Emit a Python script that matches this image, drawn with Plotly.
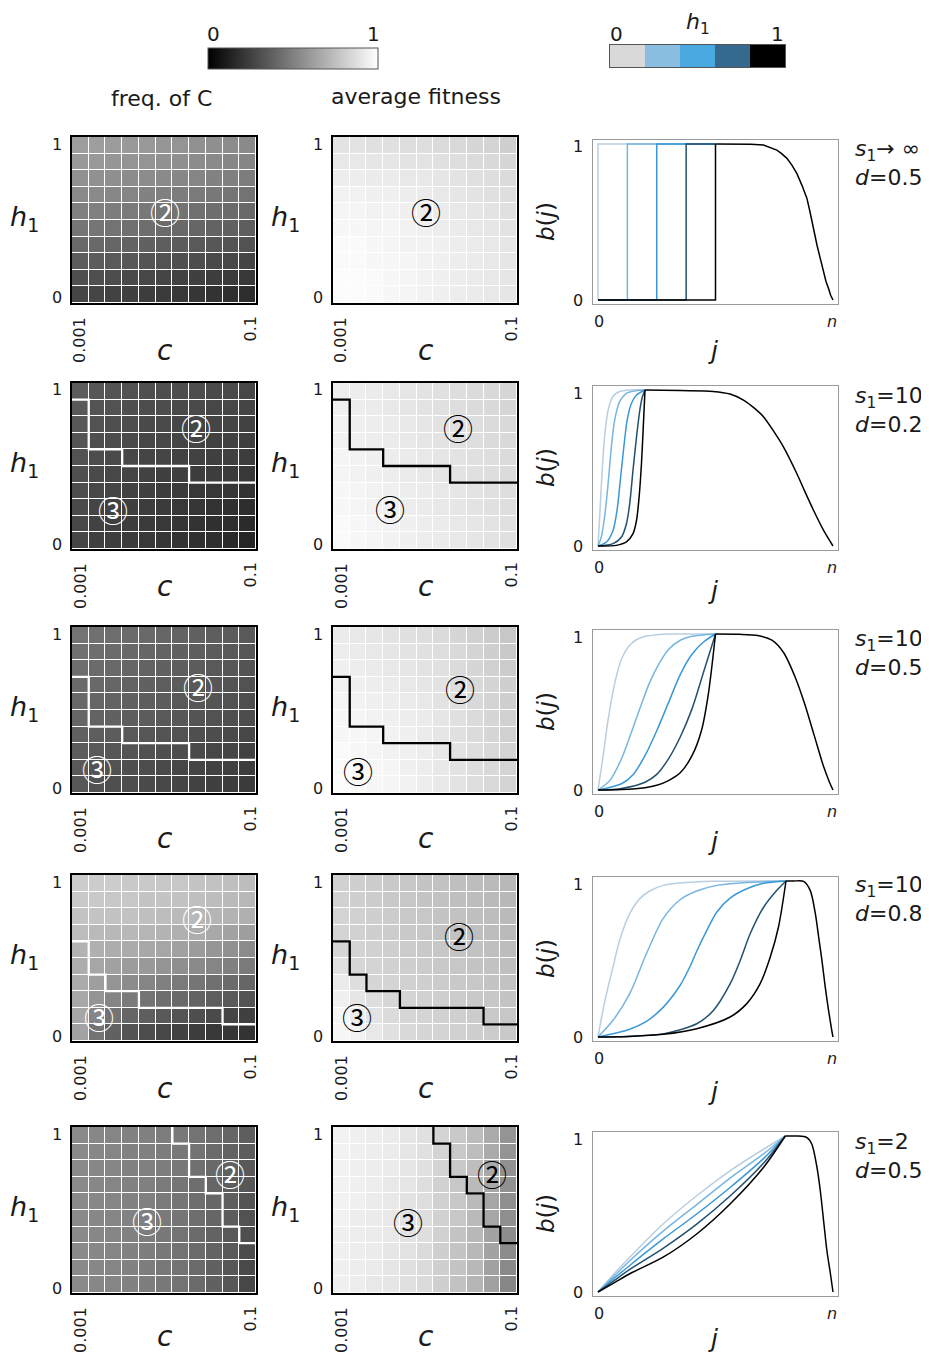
import plotly.graph_objects as go

# page has an 8px body margin: figure spans page pixels 8..929 x 8..1356
OFF = 8
W, H = 929 - OFF, 1356 - OFF
FONT = "DejaVu Sans, Verdana, sans-serif"
CIRC_FONT = "Noto Sans CJK JP, Noto Sans CJK SC, DejaVu Sans, sans-serif"

# ---------------- heatmap data (percent grey, rows listed top -> bottom) -------------
FREQ_1 = [
    [62, 62, 61, 60, 60, 59, 58, 57, 56, 55, 54],
    [60, 60, 59, 58, 58, 57, 56, 55, 54, 53, 52],
    [57, 57, 56, 55, 55, 54, 53, 52, 51, 50, 49],
    [54, 54, 53, 52, 51, 50, 49, 48, 47, 46, 45],
    [50, 50, 49, 48, 47, 46, 45, 44, 43, 42, 41],
    [46, 46, 45, 44, 43, 42, 41, 40, 39, 38, 37],
    [41, 41, 40, 39, 38, 37, 36, 35, 34, 33, 32],
    [36, 36, 35, 34, 33, 32, 31, 30, 29, 28, 27],
    [31, 31, 30, 29, 28, 27, 26, 25, 24, 23, 22],
    [27, 27, 26, 25, 24, 23, 22, 21, 20, 19, 18],
]
FIT_1 = [
    [89, 89, 88, 88, 87, 87, 86, 85, 84, 83, 81],
    [91, 91, 90, 90, 89, 89, 88, 87, 86, 85, 84],
    [93, 93, 92, 92, 91, 91, 90, 89, 88, 87, 86],
    [95, 95, 94, 94, 93, 92, 91, 90, 89, 88, 87],
    [96, 96, 95, 95, 94, 93, 92, 91, 90, 89, 88],
    [97, 97, 96, 96, 95, 94, 93, 92, 91, 90, 89],
    [98, 98, 97, 96, 95, 95, 94, 93, 92, 91, 90],
    [98, 98, 97, 97, 96, 95, 94, 93, 92, 91, 90],
    [99, 99, 98, 97, 96, 95, 94, 93, 92, 91, 90],
    [99, 99, 98, 97, 96, 95, 94, 93, 92, 91, 90],
]
FREQ_2 = [
    [36, 34, 33, 32, 31, 31, 30, 30, 29, 29, 28],
    [35, 33, 32, 31, 30, 30, 29, 29, 28, 28, 27],
    [34, 32, 31, 30, 29, 29, 28, 28, 27, 27, 26],
    [33, 31, 30, 29, 28, 28, 27, 27, 26, 26, 25],
    [32, 30, 29, 28, 27, 27, 26, 26, 25, 25, 24],
    [31, 29, 28, 27, 26, 25, 25, 24, 24, 23, 22],
    [30, 28, 27, 26, 25, 24, 23, 22, 22, 21, 20],
    [29, 27, 26, 25, 24, 23, 22, 21, 20, 19, 18],
    [28, 26, 25, 24, 23, 22, 21, 20, 19, 18, 17],
    [27, 25, 24, 23, 22, 21, 20, 19, 18, 16, 15],
]
FIT_2 = [
    [93, 93, 92, 91, 90, 89, 88, 87, 86, 85, 84],
    [94, 93, 92, 91, 90, 89, 88, 87, 86, 85, 84],
    [95, 94, 93, 92, 91, 90, 89, 88, 87, 86, 85],
    [95, 94, 93, 92, 91, 90, 89, 88, 87, 86, 85],
    [96, 95, 94, 93, 92, 91, 90, 89, 88, 87, 86],
    [96, 95, 94, 93, 92, 91, 90, 89, 88, 87, 86],
    [97, 96, 95, 94, 93, 92, 91, 90, 89, 88, 87],
    [97, 96, 95, 94, 93, 92, 91, 90, 89, 88, 87],
    [98, 97, 96, 95, 94, 93, 92, 91, 90, 89, 88],
    [98, 97, 96, 95, 94, 93, 92, 91, 90, 89, 88],
]
FREQ_3 = [
    [45, 44, 43, 42, 41, 40, 39, 38, 37, 36, 35],
    [44, 43, 42, 41, 40, 39, 38, 37, 36, 35, 34],
    [43, 42, 41, 40, 39, 38, 37, 36, 35, 34, 33],
    [42, 41, 40, 39, 38, 37, 36, 35, 34, 33, 32],
    [41, 40, 39, 38, 37, 36, 35, 34, 33, 32, 31],
    [40, 39, 38, 37, 36, 35, 34, 33, 32, 31, 30],
    [38, 37, 36, 35, 34, 33, 32, 31, 30, 29, 28],
    [36, 35, 34, 33, 32, 31, 30, 29, 28, 27, 26],
    [35, 33, 32, 31, 30, 29, 28, 27, 26, 25, 24],
    [34, 32, 31, 30, 29, 28, 27, 26, 25, 24, 23],
]
FIT_3 = [
    [92, 91, 90, 89, 88, 87, 86, 84, 82, 80, 78],
    [93, 92, 91, 90, 89, 88, 87, 85, 83, 81, 79],
    [94, 93, 92, 91, 90, 89, 88, 86, 84, 82, 80],
    [95, 94, 93, 92, 91, 90, 89, 87, 85, 83, 81],
    [96, 95, 94, 93, 92, 91, 89, 87, 85, 83, 81],
    [97, 96, 95, 94, 93, 92, 90, 88, 86, 84, 82],
    [97, 97, 96, 95, 94, 92, 90, 88, 86, 84, 82],
    [98, 97, 96, 95, 94, 93, 91, 89, 87, 85, 83],
    [98, 98, 97, 96, 94, 93, 91, 89, 87, 85, 83],
    [99, 98, 97, 96, 95, 93, 91, 89, 87, 85, 83],
]
FREQ_4 = [
    [80, 80, 80, 79, 79, 78, 78, 77, 76, 75, 74],
    [79, 79, 78, 78, 77, 77, 76, 75, 74, 73, 72],
    [77, 77, 76, 76, 75, 74, 73, 72, 71, 70, 69],
    [74, 73, 72, 72, 71, 70, 69, 68, 66, 64, 62],
    [70, 69, 68, 67, 66, 65, 63, 61, 59, 57, 55],
    [68, 65, 63, 61, 60, 58, 56, 54, 52, 50, 48],
    [67, 62, 58, 55, 52, 50, 48, 46, 44, 42, 40],
    [66, 58, 52, 48, 45, 43, 41, 39, 37, 35, 33],
    [65, 52, 45, 40, 37, 35, 33, 31, 29, 27, 25],
    [64, 45, 38, 33, 30, 28, 26, 24, 22, 21, 20],
]
FIT_4 = [
    [82, 81, 80, 79, 78, 77, 76, 75, 74, 73, 72],
    [82, 81, 80, 79, 78, 77, 76, 75, 74, 73, 72],
    [83, 82, 81, 80, 79, 78, 77, 76, 75, 74, 73],
    [83, 82, 81, 80, 79, 78, 77, 76, 75, 74, 73],
    [84, 83, 82, 81, 80, 79, 78, 77, 76, 75, 74],
    [88, 84, 83, 82, 81, 80, 79, 78, 77, 76, 75],
    [92, 87, 84, 83, 82, 81, 80, 79, 78, 77, 76],
    [94, 90, 87, 84, 83, 82, 81, 80, 79, 78, 77],
    [96, 93, 89, 86, 84, 83, 82, 81, 80, 79, 78],
    [97, 95, 91, 88, 85, 84, 83, 82, 81, 80, 79],
]
FREQ_5 = [
    [54, 53, 52, 51, 50, 49, 47, 45, 43, 40, 37],
    [54, 53, 52, 51, 50, 49, 47, 45, 42, 39, 36],
    [54, 53, 52, 51, 50, 49, 47, 44, 41, 38, 35],
    [54, 53, 52, 51, 50, 48, 46, 43, 40, 37, 34],
    [54, 53, 52, 51, 50, 48, 46, 43, 40, 37, 33],
    [54, 53, 52, 51, 50, 48, 46, 43, 40, 36, 32],
    [54, 53, 52, 51, 49, 47, 45, 42, 39, 35, 31],
    [54, 53, 52, 51, 49, 47, 45, 42, 39, 35, 30],
    [54, 53, 52, 51, 49, 47, 45, 42, 38, 34, 29],
    [54, 53, 52, 51, 49, 47, 45, 42, 38, 34, 28],
]
FIT_5 = [
    [95, 94, 93, 92, 90, 88, 83, 79, 74, 67, 58],
    [95, 94, 93, 92, 90, 88, 83, 79, 74, 67, 58],
    [95, 94, 93, 92, 90, 88, 83, 79, 74, 66, 57],
    [95, 94, 93, 91, 90, 87, 82, 78, 73, 66, 57],
    [95, 94, 92, 91, 89, 87, 82, 78, 73, 65, 56],
    [95, 93, 92, 91, 89, 87, 82, 78, 73, 65, 56],
    [94, 93, 92, 91, 89, 87, 82, 77, 72, 64, 55],
    [94, 93, 92, 90, 89, 86, 81, 77, 72, 64, 55],
    [94, 93, 92, 90, 88, 86, 81, 77, 72, 63, 54],
    [94, 93, 91, 90, 88, 86, 81, 76, 71, 63, 53],
]

# region boundaries (cell-index coordinates)
BOUND_X = [[], [-0.5, 0.5, 0.5, 2.5, 2.5, 6.5, 6.5, 10.5],
           [-0.5, 0.5, 0.5, 2.5, 2.5, 6.5, 6.5, 10.5],
           [-0.5, 0.5, 0.5, 1.5, 1.5, 3.5, 3.5, 8.5, 8.5, 10.5],
           [5.5, 5.5, 6.5, 6.5, 7.5, 7.5, 8.5, 8.5, 9.5, 9.5, 10.5]]
BOUND_Y = [[], [8.5, 8.5, 5.5, 5.5, 4.5, 4.5, 3.5, 3.5],
           [6.5, 6.5, 3.5, 3.5, 2.5, 2.5, 1.5, 1.5],
           [5.5, 5.5, 3.5, 3.5, 2.5, 2.5, 1.5, 1.5, 0.5, 0.5],
           [9.5, 8.5, 8.5, 6.5, 6.5, 5.5, 5.5, 3.5, 3.5, 2.5, 2.5]]

# circled region labels: (label, x, y) per row for freq / fitness panels
LABELS_FREQ = [[("②", 5.07, 5.04)],
               [("②", 6.94, 6.83), ("③", 1.96, 1.9)],
               [("②", 7.04, 5.95), ("③", 1.0, 1.0)],
               [("②", 7.0, 6.9), ("③", 1.13, 1.0)],
               [("②", 8.97, 6.74), ("③", 4.0, 3.9)]]
LABELS_FIT = [[("②", 5.07, 5.05)],
              [("②", 6.99, 6.87), ("③", 2.91, 1.96)],
              [("②", 7.07, 5.85), ("③", 0.97, 0.9)],
              [("②", 7.04, 5.9), ("③", 0.94, 1.0)],
              [("②", 9.0, 6.74), ("③", 3.96, 3.84)]]

# ---------------- b(j) curves (j as fraction of n), lightest -> black -------------
R1_X = [[0, 0, 0.5], [0, 0.125, 0.125, 0.5], [0, 0.25, 0.25, 0.5], [0, 0.375, 0.375, 0.5],
        [0, 0.5, 0.5]]
R1_Y = [[0, 1, 1], [0, 0, 1, 1], [0, 0, 1, 1], [0, 0, 1, 1], [0, 0, 1]]
R1_DX = [0.5, 0.6, 0.65, 0.704, 0.72, 0.761, 0.78, 0.804, 0.825, 0.846, 0.868, 0.889,
         0.9, 0.910, 0.92, 0.932, 0.946, 0.960, 0.97, 0.981, 0.99, 1.0]
R1_DY = [1, 1, 0.999, 0.994, 0.985, 0.961, 0.94, 0.908, 0.865, 0.812, 0.735, 0.651,
         0.58, 0.501, 0.43, 0.351, 0.265, 0.180, 0.12, 0.073, 0.03, 0]

R2_X = [[0, 0.004, 0.010, 0.018, 0.028, 0.043, 0.064, 0.092, 0.135, 0.2],
        [0, 0.014, 0.028, 0.043, 0.057, 0.071, 0.092, 0.121, 0.164, 0.2],
        [0, 0.036, 0.064, 0.081, 0.095, 0.11, 0.124, 0.142, 0.164, 0.2],
        [0, 0.064, 0.1, 0.121, 0.135, 0.149, 0.164, 0.178, 0.189, 0.2],
        [0, 0.078, 0.121, 0.149, 0.164, 0.175, 0.185, 0.192, 0.2]]
R2_Y = [[0, 0.10, 0.27, 0.49, 0.70, 0.87, 0.96, 0.99, 1.0, 1.0],
        [0, 0.058, 0.186, 0.40, 0.636, 0.807, 0.925, 0.979, 0.996, 1],
        [0, 0.026, 0.10, 0.229, 0.422, 0.636, 0.807, 0.914, 0.968, 1],
        [0, 0.015, 0.058, 0.143, 0.272, 0.486, 0.70, 0.871, 0.957, 1],
        [0, 0.004, 0.026, 0.079, 0.165, 0.315, 0.529, 0.743, 1]]
R2_DX = [0.2, 0.35, 0.49, 0.562, 0.619, 0.66, 0.704, 0.75, 0.789, 0.846, 0.88, 0.917, 0.96, 1.0]
R2_DY = [1, 0.996, 0.991, 0.974, 0.935, 0.89, 0.829, 0.73, 0.636, 0.465, 0.35, 0.229, 0.10, 0]

R3_X = [[0, 0.02, 0.04, 0.06, 0.08, 0.1, 0.13, 0.16, 0.2, 0.25, 0.3, 0.4, 0.5],
        [0, 0.05, 0.1, 0.14, 0.18, 0.22, 0.26, 0.3, 0.35, 0.4, 0.5],
        [0, 0.1, 0.15, 0.2, 0.25, 0.3, 0.35, 0.4, 0.45, 0.5],
        [0, 0.1, 0.2, 0.25, 0.3, 0.35, 0.4, 0.45, 0.5],
        [0, 0.1, 0.2, 0.25, 0.3, 0.35, 0.4, 0.44, 0.47, 0.5]]
R3_Y = [[0, 0.2, 0.42, 0.6, 0.74, 0.84, 0.92, 0.96, 0.985, 0.995, 1, 1, 1],
        [0, 0.06, 0.2, 0.36, 0.53, 0.69, 0.81, 0.9, 0.96, 0.985, 1],
        [0, 0.04, 0.1, 0.22, 0.38, 0.56, 0.74, 0.87, 0.95, 1],
        [0, 0.01, 0.05, 0.1, 0.2, 0.34, 0.52, 0.76, 1],
        [0, 0.003, 0.015, 0.03, 0.06, 0.11, 0.22, 0.38, 0.62, 1]]
R3_DX = [0.5, 0.6, 0.68, 0.74, 0.79, 0.84, 0.88, 0.92, 0.96, 0.985, 1.0]
R3_DY = [1, 0.998, 0.99, 0.96, 0.88, 0.72, 0.55, 0.35, 0.15, 0.05, 0]

R4_X = [[0, 0.021, 0.043, 0.064, 0.092, 0.135, 0.178, 0.22, 0.277, 0.349, 0.491, 0.8],
        [0, 0.064, 0.135, 0.206, 0.277, 0.349, 0.42, 0.505, 0.633, 0.8],
        [0, 0.135, 0.206, 0.277, 0.349, 0.391, 0.42, 0.462, 0.505, 0.562, 0.633, 0.704, 0.8],
        [0, 0.277, 0.42, 0.491, 0.562, 0.605, 0.647, 0.704, 0.761, 0.8],
        [0, 0.135, 0.277, 0.42, 0.562, 0.633, 0.69, 0.733, 0.768, 0.8]]
R4_Y = [[0, 0.171, 0.321, 0.449, 0.62, 0.791, 0.887, 0.936, 0.972, 0.987, 0.998, 1],
        [0, 0.107, 0.278, 0.534, 0.759, 0.88, 0.936, 0.972, 0.991, 1],
        [0, 0.05, 0.1, 0.19, 0.33, 0.45, 0.55, 0.68, 0.8, 0.89, 0.95, 0.985, 1],
        [0, 0.02, 0.085, 0.17, 0.34, 0.49, 0.66, 0.83, 0.94, 1],
        [0, 0.004, 0.017, 0.053, 0.128, 0.214, 0.342, 0.513, 0.705, 1]]
R4_DX = [0.8, 0.832, 0.875, 0.903, 0.925, 0.939, 0.953, 0.967, 0.981, 0.996, 1.0]
R4_DY = [1, 1, 0.998, 0.94, 0.79, 0.64, 0.49, 0.32, 0.171, 0.032, 0]

R5_X = [[0, 0.07, 0.135, 0.277, 0.42, 0.562, 0.704, 0.797],
        [0, 0.07, 0.135, 0.277, 0.42, 0.562, 0.704, 0.797],
        [0, 0.07, 0.135, 0.277, 0.42, 0.562, 0.704, 0.797],
        [0, 0.07, 0.135, 0.277, 0.42, 0.562, 0.704, 0.797],
        [0, 0.07, 0.135, 0.277, 0.42, 0.562, 0.704, 0.797]]
R5_Y = [[0, 0.12, 0.223, 0.436, 0.617, 0.777, 0.915, 1],
        [0, 0.105, 0.2, 0.39, 0.56, 0.73, 0.885, 1],
        [0, 0.09, 0.17, 0.34, 0.5, 0.67, 0.855, 1],
        [0, 0.075, 0.145, 0.28, 0.435, 0.615, 0.825, 1],
        [0, 0.06, 0.117, 0.223, 0.372, 0.564, 0.798, 1]]
R5_DX = [0.797, 0.846, 0.889, 0.91, 0.932, 0.946, 0.96, 0.974, 0.989, 1.0]
R5_DY = [1, 1, 0.99, 0.947, 0.798, 0.649, 0.457, 0.266, 0.117, 0]

CURVE_COLORS = ["#b9cfe0", "#78b5e0", "#3b98d6", "#24506f", "#000000"]
BAR_COLORS = ["#d9d9d9", "#89bee1", "#4aa9e1", "#336a8e", "#000000"]
ROW_S = ["<i>s</i><sub>1</sub>→ ∞", "<i>s</i><sub>1</sub>=10", "<i>s</i><sub>1</sub>=10",
         "<i>s</i><sub>1</sub>=10", "<i>s</i><sub>1</sub>=2"]
ROW_D = ["<i>d</i>=0.5", "<i>d</i>=0.2", "<i>d</i>=0.5", "<i>d</i>=0.8", "<i>d</i>=0.5"]

# ---------------- layout geometry (page pixels) ----------------
HEAT_TOPS = [137, 383, 627, 875, 1127]
HEAT_H = 166
COLS = [(72, 256), (333, 517)]
CURVE_X = (593, 838)
CURVE_TOPS = [140, 386, 630, 877, 1132]
CURVE_H = 164
C_LABEL_Y = [350, 586, 838, 1088, 1336]
J_LABEL_Y = [350, 590, 841, 1091, 1338]
S_LABEL_Y = [150, 397, 640, 887, 1143]


def px(x):
    return (x - OFF) / W


def py(y):
    return 1 - (y - OFF) / H


def aname(i):
    return "" if i == 1 else str(i)


def ann(text, x, y, size, xanchor="center", yanchor="middle", angle=0, color="#1a1a1a",
        family=FONT):
    return dict(text=text, x=px(x), y=py(y), xref="paper", yref="paper", showarrow=False,
                xanchor=xanchor, yanchor=yanchor, textangle=angle,
                font=dict(family=family, size=size, color=color))


fig = go.Figure()
layout_axes = {}
annotations = []

FREQS = [FREQ_1, FREQ_2, FREQ_3, FREQ_4, FREQ_5]
FITS = [FIT_1, FIT_2, FIT_3, FIT_4, FIT_5]
CX = [R1_X, R2_X, R3_X, R4_X, R5_X]
CY = [R1_Y, R2_Y, R3_Y, R4_Y, R5_Y]
DX = [R1_DX, R2_DX, R3_DX, R4_DX, R5_DX]
DY = [R1_DY, R2_DY, R3_DY, R4_DY, R5_DY]

grey_scale = [[0, "#000000"], [1, "#ffffff"]]

for r in range(5):
    T = HEAT_TOPS[r]
    B = T + HEAT_H
    for c in range(2):
        ax = 3 * r + c + 1
        mat = (FREQS if c == 0 else FITS)[r]
        z = [[v / 100 for v in row] for row in mat[::-1]]
        hm = dict(z=z, xaxis="x" + aname(ax), yaxis="y" + aname(ax), colorscale=grey_scale,
                  zmin=0, zmax=1, xgap=1, ygap=1, hoverinfo="skip", showscale=False)
        if ax == 1:
            hm.update(showscale=True, colorbar=dict(
                orientation="h", x=px(293), xanchor="center", y=py(48), yanchor="top",
                len=170, lenmode="pixels", thickness=21, thicknessmode="pixels",
                outlinewidth=1, outlinecolor="#555555", showticklabels=False, ticks="",
                xpad=0, ypad=0))
        fig.add_trace(go.Heatmap(**hm))
        if BOUND_X[r]:
            fig.add_trace(go.Scatter(x=BOUND_X[r], y=BOUND_Y[r], mode="lines",
                                     line=dict(color="white" if c == 0 else "black", width=2.3),
                                     xaxis="x" + aname(ax), yaxis="y" + aname(ax),
                                     showlegend=False, hoverinfo="skip"))
        x0, x1 = COLS[c]
        layout_axes["xaxis" + aname(ax)] = dict(
            domain=[px(x0), px(x1)], range=[-0.5, 10.5], showgrid=False, zeroline=False,
            showticklabels=False, ticks="", showline=True, mirror=True, linecolor="black",
            linewidth=2, anchor="y" + aname(ax), fixedrange=True)
        layout_axes["yaxis" + aname(ax)] = dict(
            domain=[py(B), py(T)], range=[-0.5, 9.5], showgrid=False, zeroline=False,
            showticklabels=False, ticks="", showline=True, mirror=True, linecolor="black",
            linewidth=2, anchor="x" + aname(ax), fixedrange=True)
        # circled labels
        for (lab, lx, ly) in (LABELS_FREQ if c == 0 else LABELS_FIT)[r]:
            annotations.append(dict(text=lab, x=lx, y=ly, xref="x" + aname(ax),
                                    yref="y" + aname(ax), showarrow=False,
                                    font=dict(family=CIRC_FONT, size=30,
                                              color="white" if c == 0 else "black")))
        # axis texts
        annotations.append(ann("1", x0 - 15, T + 7, 16))
        annotations.append(ann("0", x0 - 15, B - 5, 16))
        annotations.append(ann("<i>h</i><sub>1</sub>", x0 - 48, T + 81, 27))
        annotations.append(ann("0.001", x0 + 8, B + 12, 16, yanchor="top", angle=-90))
        annotations.append(ann("0.1", x1 - 6, B + 12, 16, yanchor="top", angle=-90))
        annotations.append(ann("<i>c</i>", (x0 + x1) / 2 + 1, C_LABEL_Y[r], 28))

    # curves panel
    ax = 3 * r + 3
    xa, ya = "x" + aname(ax), "y" + aname(ax)
    shape = "linear" if r == 0 else "spline"
    for k in range(5):
        fig.add_trace(go.Scatter(x=CX[r][k], y=CY[r][k], mode="lines",
                                 line=dict(color=CURVE_COLORS[k], width=1.5, shape=shape,
                                           smoothing=0.8),
                                 xaxis=xa, yaxis=ya, showlegend=False, hoverinfo="skip"))
    fig.add_trace(go.Scatter(x=DX[r], y=DY[r], mode="lines",
                             line=dict(color="#000000", width=1.5, shape=shape, smoothing=0.8),
                             xaxis=xa, yaxis=ya, showlegend=False, hoverinfo="skip"))
    CT = CURVE_TOPS[r]
    CB = CT + CURVE_H
    layout_axes["xaxis" + aname(ax)] = dict(
        domain=[px(CURVE_X[0]), px(CURVE_X[1])], range=[-5 / 235, 1 + 5 / 235],
        showgrid=False, zeroline=False, showticklabels=False, ticks="", showline=True,
        mirror=True, linecolor="#9a9a9a", linewidth=1, anchor=ya, fixedrange=True)
    layout_axes["yaxis" + aname(ax)] = dict(
        domain=[py(CB), py(CT)], range=[-4 / 156, 1 + 4 / 156], showgrid=False,
        zeroline=False, showticklabels=False, ticks="", showline=True, mirror=True,
        linecolor="#9a9a9a", linewidth=1, anchor=xa, fixedrange=True)
    annotations.append(ann("1", 578, CT + 7, 16))
    annotations.append(ann("0", 578, CB - 4, 16))
    annotations.append(ann("0", 599, CB + 17, 16))
    annotations.append(ann("<i>n</i>", 832, CB + 17, 16))
    annotations.append(ann("<i>b</i>(<i>j</i>)", 546, CT + 82, 23, angle=-90))
    annotations.append(ann("<i>j</i>", 713, J_LABEL_Y[r], 25))
    annotations.append(ann(ROW_S[r], 853, S_LABEL_Y[r], 22, xanchor="left"))
    annotations.append(ann(ROW_D[r], 853, S_LABEL_Y[r] + 27, 22, xanchor="left"))

# discrete h1 colour bar
fig.add_trace(go.Heatmap(z=[[0, 1, 2, 3, 4]], xaxis="x16", yaxis="y16", zmin=0, zmax=4,
                         colorscale=[[i / 4, col] for i, col in enumerate(BAR_COLORS)],
                         showscale=False, hoverinfo="skip"))
layout_axes["xaxis16"] = dict(domain=[px(610), px(785)], range=[-0.5, 4.5], showgrid=False,
                              zeroline=False, showticklabels=False, ticks="", showline=True,
                              mirror=True, linecolor="#555555", linewidth=1, anchor="y16",
                              fixedrange=True)
layout_axes["yaxis16"] = dict(domain=[py(67), py(45)], range=[-0.5, 0.5], showgrid=False,
                              zeroline=False, showticklabels=False, ticks="", showline=True,
                              mirror=True, linecolor="#555555", linewidth=1, anchor="x16",
                              fixedrange=True)

annotations += [
    ann("0", 213, 34, 20), ann("1", 373, 34, 20),
    ann("0", 616, 34, 20), ann("1", 777, 34, 20),
    ann("<i>h</i><sub>1</sub>", 698, 24, 22),
    ann("freq. of C", 161, 98, 22),
    ann("average fitness", 416, 97, 22),
]

fig.update_layout(width=W, height=H, margin=dict(l=0, r=0, t=0, b=0),
                  paper_bgcolor="white", plot_bgcolor="white", showlegend=False,
                  annotations=annotations, **layout_axes)

fig.write_html("out.html")
